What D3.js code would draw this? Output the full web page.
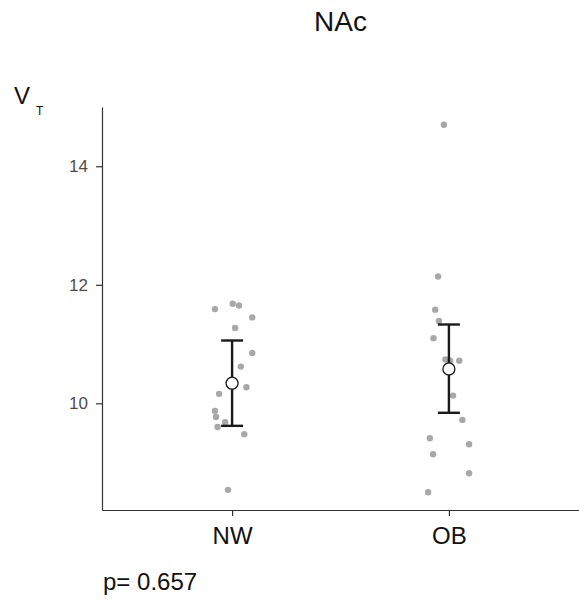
<!DOCTYPE html>
<html>
<head>
<meta charset="utf-8">
<script src="https://cdn.jsdelivr.net/npm/d3@7"></script>
<style>
  body { margin: 0; background: #fff; }
  svg text { font-family: "Liberation Sans", Arial, sans-serif; }
</style>
</head>
<body>
<div id="chart"></div>
<script>
// groups and values
const groups = ["NW", "OB"];
const nwValues = [11.59, 11.68, 11.65, 11.45, 11.27, 10.85, 10.62, 10.27, 10.16, 9.87, 9.77, 9.68, 9.60, 9.48, 8.54];
const nwJitter = [-0.079, 0.003, 0.032, 0.093, 0.014, 0.093, 0.040, 0.066, -0.060, -0.079, -0.074, -0.032, -0.067, 0.056, -0.019];
const obValues = [14.70, 12.14, 11.58, 11.39, 11.10, 10.74, 10.72, 10.72, 10.13, 9.72, 9.41, 9.31, 9.14, 8.82, 8.50];
const obJitter = [-0.023, -0.050, -0.063, -0.046, -0.071, -0.016, 0.006, 0.048, 0.019, 0.062, -0.088, 0.093, -0.073, 0.093, -0.096];
const means = [10.34, 10.58];
const ciLow = [9.62, 9.84];
const ciHigh = [11.06, 11.33];
const yTicks = [10, 12, 14];
const title = "NAc";
const pLabel = "p= 0.657";

const w = 579, h = 604;
const margin = {top: 107, right: 0, bottom: 94, left: 102};

const svg = d3.select("#chart").append("svg")
  .attr("width", w)
  .attr("height", h);

const x = d3.scalePoint()
  .domain(groups)
  .range([margin.left, w - margin.right])
  .padding(0.6);
const step = x.step();

const y = d3.scaleLinear()
  .domain([8.2, 15.0])
  .range([h - margin.bottom, margin.top]);

// raw points
const points = [];
nwValues.forEach((v, i) => points.push({g: "NW", v: v, j: nwJitter[i]}));
obValues.forEach((v, i) => points.push({g: "OB", v: v, j: obJitter[i]}));

svg.append("g")
  .selectAll("circle")
  .data(points)
  .enter().append("circle")
  .attr("cx", d => x(d.g) + d.j * step)
  .attr("cy", d => y(d.v))
  .attr("r", 3.2)
  .attr("fill", "#a8a8a8");

// error bars
const summary = groups.map((g, i) => ({g: g, m: means[i], lo: ciLow[i], hi: ciHigh[i]}));
const capW = 11;
const eb = svg.append("g").attr("stroke", "#1a1a1a").attr("stroke-width", 2.4);
eb.selectAll(".stem").data(summary).enter().append("line")
  .attr("x1", d => x(d.g)).attr("x2", d => x(d.g))
  .attr("y1", d => y(d.lo)).attr("y2", d => y(d.hi));
eb.selectAll(".capHi").data(summary).enter().append("line")
  .attr("x1", d => x(d.g) - capW).attr("x2", d => x(d.g) + capW)
  .attr("y1", d => y(d.hi)).attr("y2", d => y(d.hi));
eb.selectAll(".capLo").data(summary).enter().append("line")
  .attr("x1", d => x(d.g) - capW).attr("x2", d => x(d.g) + capW)
  .attr("y1", d => y(d.lo)).attr("y2", d => y(d.lo));

svg.append("g").selectAll("circle")
  .data(summary)
  .enter().append("circle")
  .attr("cx", d => x(d.g))
  .attr("cy", d => y(d.m))
  .attr("r", 6)
  .attr("fill", "#fff")
  .attr("stroke", "#1a1a1a")
  .attr("stroke-width", 1.3);

// axes
const yAxis = svg.append("g")
  .attr("transform", "translate(" + margin.left + ",0)")
  .call(d3.axisLeft(y).tickValues(yTicks).tickFormat(d3.format("d"))
    .tickSize(6).tickSizeOuter(0).tickPadding(8));
yAxis.select(".domain").attr("stroke", "#333").attr("stroke-width", 1.2);
yAxis.selectAll(".tick line").attr("stroke", "#333").attr("stroke-width", 1.2);
yAxis.selectAll(".tick text")
  .attr("fill", "#4d4d4d")
  .style("font-size", "17px");

const xAxis = svg.append("g")
  .attr("transform", "translate(0," + (h - margin.bottom) + ")")
  .call(d3.axisBottom(x).tickSize(6).tickSizeOuter(0).tickPadding(11));
xAxis.select(".domain").attr("stroke", "#333").attr("stroke-width", 1.2);
xAxis.selectAll(".tick line").attr("stroke", "#333").attr("stroke-width", 1.2);
xAxis.selectAll(".tick text")
  .attr("fill", "#111")
  .style("font-size", "24px");

// y axis label V_T
const yl = svg.append("text")
  .attr("x", 14)
  .attr("y", 103.5)
  .attr("fill", "#111")
  .style("font-size", "24px");
yl.append("tspan").text("V");
yl.append("tspan").attr("dx", 6).attr("dy", 11).style("font-size", "12px").text("T");

// title
svg.append("text")
  .attr("x", (margin.left + w - margin.right) / 2)
  .attr("y", 31)
  .attr("text-anchor", "middle")
  .attr("fill", "#111")
  .style("font-size", "28px")
  .text(title);

// p value
svg.append("text")
  .attr("x", 103)
  .attr("y", 590)
  .attr("fill", "#111")
  .style("font-size", "24px")
  .text(pLabel);
</script>
</body>
</html>
